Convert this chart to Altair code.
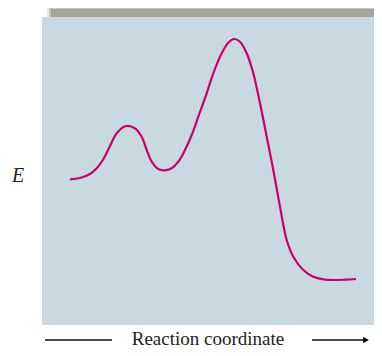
import altair as alt
import pandas as pd

# Reaction coordinate (arbitrary units) and energy (arbitrary units)
xs = [28, 38, 48, 54.7, 61.3, 68, 74.7, 84, 93, 99.7, 104.7, 109.7, 116.3, 123, 129.7,
      136.3, 143, 149.7, 156.3, 164.7, 171.3, 179.7, 186.3, 192, 198, 204.7, 211.3, 218,
      224.7, 231.3, 238, 244.7, 251.3, 261.3, 271.3, 281.3, 291.3, 303, 314]
es = [145.7, 147, 151, 156.7, 165.7, 179, 191.7, 199, 196.7, 188.3, 175, 163.3, 156, 154.7,
      156.7, 163.3, 175, 190, 208.3, 231.7, 251.7, 271.7, 282.3, 286, 283.3, 271.7, 251.7,
      221.7, 188.3, 155, 118.3, 85, 68.3, 55, 48.3, 45.7, 45, 45.3, 46]

y_label = "E"
x_label = "Reaction coordinate"

df = pd.DataFrame({"x": xs, "E": es})
one = alt.Data(values=[{"a": 1}])

W, H = 332, 308
xs_scale = alt.Scale(domain=[0, W], nice=False, zero=False)
ys_scale = alt.Scale(domain=[0, H], nice=False, zero=False)

def rect(x1, x2, y1, y2, color, op=1.0):
    return alt.Chart(one).mark_rect(color=color, opacity=op).encode(
        x=alt.value(x1), x2=alt.value(x2), y=alt.value(y1), y2=alt.value(y2))

shadow = [
    rect(5, 345, -12, 303, "#dcdbd6", 0.6),
    rect(7, 343, -10, 301, "#bdbcb6", 0.8),
    rect(9, 341, -8, 299, "#a4a39c", 1.0),
]
panel = rect(0, W, 0, H, "#c9d9e1")

curve = alt.Chart(df).mark_line(color="#c8006e", strokeWidth=2.2, interpolate="catmull-rom").encode(
    x=alt.X("x:Q", scale=xs_scale, axis=None),
    y=alt.Y("E:Q", scale=ys_scale, axis=None),
)

e_text = alt.Chart(one).mark_text(
    text=y_label, font="Liberation Serif", fontStyle="italic", fontSize=20,
    color="#222222", align="center", baseline="middle"
).encode(x=alt.value(-24), y=alt.value(159))

x_text = alt.Chart(one).mark_text(
    text=x_label, font="Liberation Serif", fontSize=19,
    color="#222222", align="center", baseline="alphabetic"
).encode(x=alt.value(166), y=alt.value(328))

LY = 323
left_line = alt.Chart(one).mark_rule(color="#111111", strokeWidth=1.5).encode(
    x=alt.value(3), x2=alt.value(70), y=alt.value(LY))
right_line = alt.Chart(one).mark_rule(color="#111111", strokeWidth=1.5).encode(
    x=alt.value(270), x2=alt.value(322), y=alt.value(LY))
arrow = alt.Chart(one).mark_point(shape="triangle-right", filled=True, color="#111111",
                                  size=45, opacity=1).encode(
    x=alt.value(324), y=alt.value(LY))

chart = alt.layer(*shadow, panel, curve, e_text, x_text, left_line, right_line, arrow).properties(
    width=W, height=H,
    autosize=alt.AutoSizeParams(type="none"),
    padding={"left": 34, "top": 9, "right": 0, "bottom": 23},
).configure_view(stroke=None)

chart.save("out.html", embed_options={"renderer": "svg", "actions": False})
